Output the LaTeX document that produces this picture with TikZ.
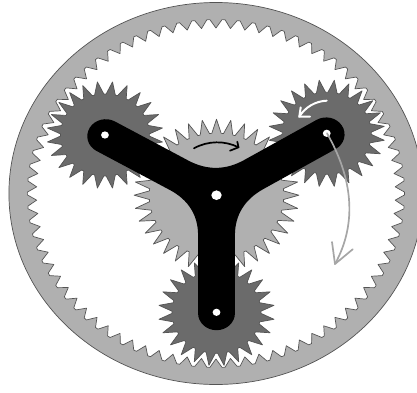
\documentclass[tikz,border=0pt]{standalone}
\usepackage{xcolor}

\definecolor{gearlight}{gray}{0.69}
\definecolor{geardark}{gray}{0.42}
\definecolor{gearline}{gray}{0.33}

% #1 style, #2 centre, #3 teeth, #4 tip radius, #5 root radius, #6 phase
\newcommand{\gearshape}[6]{%
  \draw[#1, shift={#2}, rotate=#6] ({-180/#3}:#5)
    \foreach \tooth in {1,...,#3} {
      -- ({360/#3*(\tooth-1.4)}:#5)
      -- ({360/#3*(\tooth-1)}:#4)
      -- ({360/#3*(\tooth-0.6)}:#5)
      -- ({360/#3*(\tooth-0.5)}:#5)
    } -- cycle;}

\begin{document}
\begin{tikzpicture}[
    x=1pt, y=1pt,
    gr/.style={draw=gearline, line width=0.7pt, line join=round},
    ringbody/.style={gr, fill=gearlight},
    ringin/.style={gr, fill=white},
    sun/.style={gr, fill=gearlight},
    planet/.style={gr, fill=geardark},
    hole/.style={fill=white},
    arr/.style={line width=1.7pt, line cap=round, line join=round}
  ]
  \useasboundingbox (0,0) rectangle (417,392);
  \clip (0,0) rectangle (417,392);
  \begin{scope}[shift={(216.5,196.8)}, xscale=1.084]
    % ---------------- Ring ----------------
    \draw[ringbody] (-0.5,1.7) circle (191);
    \gearshape{ringin}{(-0.5,1.7)}{78}{165.5}{174}{2.31}

    % ---------------- Sun and planets ----------------
    \gearshape{sun}{(0,0)}{36}{76}{62}{0}
    \gearshape{planet}{(0,-117.1)}{24}{53.5}{41}{7.5}
    \gearshape{planet}{(-102.9,60.2)}{24}{53.5}{41}{7.5}
    \gearshape{planet}{(101.7,61.9)}{24}{53.5}{41}{7.5}

    % ---------------- Carrier ----------------
    \fill[black]
      ([rotate=270]40,-17)
      \foreach \a/\b in {270/31, 31/150, 150/270} {
        -- ([rotate=\a]118,-17)
        arc[start angle=\a-90, end angle=\a+90, radius=17]
        -- ([rotate=\a]40,17)
        .. controls ([rotate=\a]20,17) and ([rotate=\b]20,-17) .. ([rotate=\b]40,-17)
      } -- cycle;
    \fill[hole] (0,0) circle (4.8);
    \fill[hole] (0,-117.1) circle (3.6);
    \fill[hole] (-102.9,60.2) circle (3.6);
    \fill[hole] (101.7,61.9) circle (3.6);
  \end{scope}

  % ---------------- Arrows ----------------
  \draw[arr, black] (194,243.7) .. controls (208,251.5) and (225,251.5) .. (238.5,244.7);
  \draw[arr, black] (237.3,250.3) -- (238.5,244.7) -- (230,241.3);
  \draw[arr, white, line width=2pt] (326.7,291.3) .. controls (316,291) and (305,285) .. (299.3,275.3);
  \draw[arr, white, line width=2pt] (300.7,284.7) -- (299.3,275.3) -- (310,275.3);
  \draw[arr, gray!70] (327,258.7) .. controls (352,215) and (358,170) .. (335,128);
  \draw[arr, gray!70] (332,150) -- (335,128) -- (352.7,142.7);
\end{tikzpicture}
\end{document}
